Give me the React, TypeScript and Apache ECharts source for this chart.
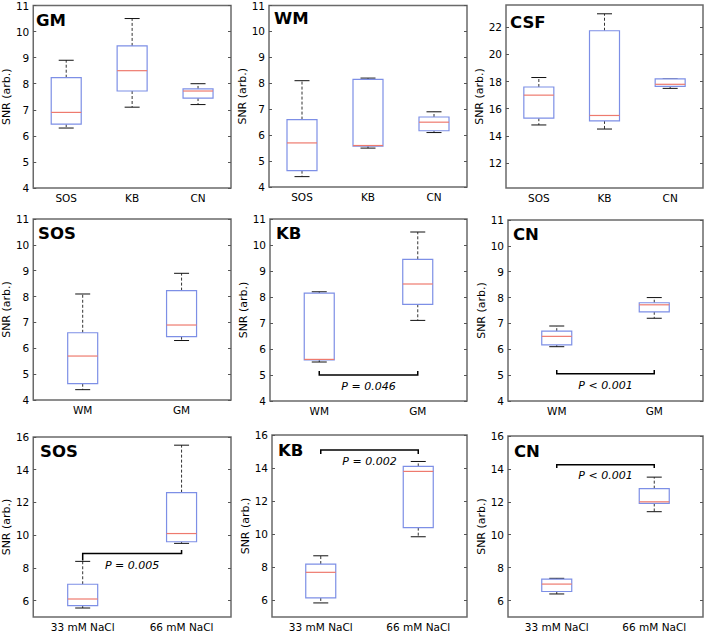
import React, { useEffect, useRef } from "react";
import * as echarts from "echarts";

// Box statistics: [min, Q1, median, Q3, max]
const GM_SOS = [6.3, 6.45, 6.9, 8.23, 8.9];
const GM_KB = [7.1, 7.72, 8.5, 9.45, 10.5];
const GM_CN = [7.2, 7.45, 7.72, 7.8, 8.0];
const WM_SOS = [4.4, 4.63, 5.7, 6.6, 8.1];
const WM_KB = [5.5, 5.58, 5.6, 8.15, 8.2];
const WM_CN = [6.1, 6.17, 6.5, 6.7, 6.9];
const CSF_SOS = [14.8, 15.3, 17.0, 17.6, 18.3];
const CSF_KB = [14.5, 15.1, 15.5, 21.75, 23.0];
const CSF_CN = [17.5, 17.65, 17.8, 18.2, 18.2];
const SOS_33 = [5.55, 5.7, 6.1, 7.0, 8.4];
const SOS_66 = [9.5, 9.6, 10.1, 12.6, 15.5];
const KB_33 = [5.85, 6.15, 7.7, 8.2, 8.7];
const KB_66 = [9.85, 10.4, 13.8, 14.1, 14.4];
const CN_33 = [6.4, 6.55, 7.0, 7.3, 7.35];
const CN_66 = [11.4, 11.9, 12.0, 12.8, 13.5];

// Categories
const METHODS = ["SOS", "KB", "CN"];
const TISSUES = ["WM", "GM"];
const NACL = ["33 mM NaCl", "66 mM NaCl"];

// Y ranges and tick labels
const RANGE_TISSUE = [4, 11];
const RANGE_CSF = [10.15, 23.65];
const RANGE_NACL = [5, 16];
const TICKS_TISSUE = [4, 5, 6, 7, 8, 9, 10, 11];
const TICKS_CSF = [12, 14, 16, 18, 20, 22];
const TICKS_NACL = [6, 8, 10, 12, 14, 16];

// Significance brackets: [barY, leftLegY, rightLegY, labelY]
const KB_TISSUE_BRACKET = [5.0, 5.15, 5.15, 4.55];
const CN_TISSUE_BRACKET = [5.05, 5.2, 5.2, 4.6];
const SOS_NACL_BRACKET = [8.88, 8.45, 9.1, 8.13];
const KB_NACL_BRACKET = [15.1, 14.85, 14.85, 14.38];
const CN_NACL_BRACKET = [14.25, 14.05, 14.05, 13.6];
const P_LABELS = ["P = 0.046", "P < 0.001", "P = 0.005", "P = 0.002", "P < 0.001"];

const PANELS = [
  { title: "GM", cats: METHODS, boxes: [GM_SOS, GM_KB, GM_CN], range: RANGE_TISSUE, ticks: TICKS_TISSUE },
  { title: "WM", cats: METHODS, boxes: [WM_SOS, WM_KB, WM_CN], range: RANGE_TISSUE, ticks: TICKS_TISSUE },
  { title: "CSF", cats: METHODS, boxes: [CSF_SOS, CSF_KB, CSF_CN], range: RANGE_CSF, ticks: TICKS_CSF },
  { title: "SOS", cats: TISSUES, boxes: [WM_SOS, GM_SOS], range: RANGE_TISSUE, ticks: TICKS_TISSUE },
  { title: "KB", cats: TISSUES, boxes: [WM_KB, GM_KB], range: RANGE_TISSUE, ticks: TICKS_TISSUE, bracket: KB_TISSUE_BRACKET, p: P_LABELS[0] },
  { title: "CN", cats: TISSUES, boxes: [WM_CN, GM_CN], range: RANGE_TISSUE, ticks: TICKS_TISSUE, bracket: CN_TISSUE_BRACKET, p: P_LABELS[1] },
  { title: "SOS", cats: NACL, boxes: [SOS_33, SOS_66], range: RANGE_NACL, ticks: TICKS_NACL, bracket: SOS_NACL_BRACKET, p: P_LABELS[2] },
  { title: "KB", cats: NACL, boxes: [KB_33, KB_66], range: RANGE_NACL, ticks: TICKS_NACL, bracket: KB_NACL_BRACKET, p: P_LABELS[3] },
  { title: "CN", cats: NACL, boxes: [CN_33, CN_66], range: RANGE_NACL, ticks: TICKS_NACL, bracket: CN_NACL_BRACKET, p: P_LABELS[4] },
];

// Layout (pixels)
const LAYOUT = [
  { left: 31, top: 5, width: 200, height: 183, nameGap: 18.5, tx: 5, ty: 7.3 },
  { left: 269, top: 5, width: 198, height: 182, nameGap: 11.5, tx: 5, ty: 4.7 },
  { left: 506, top: 5, width: 197, height: 183, nameGap: 17.5, tx: 4, ty: 9 },
  { left: 33, top: 219, width: 198, height: 181, nameGap: 20.5, tx: 5, ty: 6 },
  { left: 270, top: 219, width: 197, height: 182, nameGap: 12.5, tx: 6, ty: 6 },
  { left: 508, top: 220, width: 195, height: 181, nameGap: 14.5, tx: 5, ty: 6 },
  { left: 33, top: 437, width: 198, height: 180, nameGap: 20.5, tx: 7, ty: 6 },
  { left: 272, top: 435, width: 195, height: 182, nameGap: 18.5, tx: 6, ty: 7 },
  { left: 508, top: 436, width: 195, height: 181, nameGap: 18.5, tx: 6, ty: 7 },
];

const FONT = '"DejaVu Sans", "Noto Sans", sans-serif';
const BOX_COLOR = "#7d8fe6";
const MEDIAN_COLOR = "#ee7a6e";
const WHISKER_COLOR = "#333333";
const CAP_COLOR = "#111111";
const FRAME_COLOR = "#6a6a6a";
const BOX_HALF = 15;
const CAP_HALF = 7.5;

function boxRenderItem(params: any, api: any) {
  const i = api.value(0);
  const pMin = api.coord([i, api.value(1)]);
  const pQ1 = api.coord([i, api.value(2)]);
  const pMed = api.coord([i, api.value(3)]);
  const pQ3 = api.coord([i, api.value(4)]);
  const pMax = api.coord([i, api.value(5)]);
  const cx = pMed[0];
  const dash = { stroke: WHISKER_COLOR, lineWidth: 1, lineDash: [3, 2] };
  return {
    type: "group",
    children: [
      { type: "line", shape: { x1: cx, y1: pQ1[1], x2: cx, y2: pMin[1] }, style: dash },
      { type: "line", shape: { x1: cx, y1: pQ3[1], x2: cx, y2: pMax[1] }, style: dash },
      { type: "line", shape: { x1: cx - CAP_HALF, y1: pMin[1], x2: cx + CAP_HALF, y2: pMin[1] }, style: { stroke: CAP_COLOR, lineWidth: 1 } },
      { type: "line", shape: { x1: cx - CAP_HALF, y1: pMax[1], x2: cx + CAP_HALF, y2: pMax[1] }, style: { stroke: CAP_COLOR, lineWidth: 1 } },
      {
        type: "rect",
        shape: { x: cx - BOX_HALF, y: pQ3[1], width: BOX_HALF * 2, height: pQ1[1] - pQ3[1] },
        style: { stroke: BOX_COLOR, fill: "#ffffff", lineWidth: 1.2 },
      },
      { type: "line", shape: { x1: cx - BOX_HALF, y1: pMed[1], x2: cx + BOX_HALF, y2: pMed[1] }, style: { stroke: MEDIAN_COLOR, lineWidth: 1.2 } },
    ],
  };
}

function makeBracketRenderItem(label: string) {
  return (params: any, api: any) => {
    const pL = api.coord([api.value(0), api.value(2)]);
    const pR = api.coord([api.value(1), api.value(2)]);
    const lLeg = api.coord([api.value(0), api.value(3)]);
    const rLeg = api.coord([api.value(1), api.value(4)]);
    const pT = api.coord([api.value(0), api.value(5)]);
    const st = { stroke: "#000000", lineWidth: 1.5 };
    return {
      type: "group",
      children: [
        { type: "polyline", shape: { points: [[pL[0], lLeg[1]], [pL[0], pL[1]], [pR[0], pR[1]], [pR[0], rLeg[1]]] }, style: { ...st, fill: null } },
        {
          type: "text",
          x: (pL[0] + pR[0]) / 2,
          y: pT[1],
          style: {
            text: label,
            fontFamily: FONT,
            fontSize: 11,
            fontStyle: "italic",
            fill: "#000000",
            align: "center",
            verticalAlign: "middle",
          },
        },
      ],
    };
  };
}

export default function App() {
  const ref = useRef<HTMLDivElement>(null);
  useEffect(() => {
    if (!ref.current) return;
    const chart = echarts.init(ref.current, undefined, { renderer: "svg" });
    const grid: any[] = [];
    const xAxis: any[] = [];
    const yAxis: any[] = [];
    const series: any[] = [];
    const graphic: any[] = [];
    PANELS.forEach((p, k) => {
      const L = LAYOUT[k];
      grid.push({
        left: L.left,
        top: L.top,
        width: L.width,
        height: L.height,
        show: true,
        backgroundColor: "#ffffff",
        borderColor: FRAME_COLOR,
        borderWidth: 1.5,
      });
      xAxis.push({
        type: "category",
        gridIndex: k,
        data: p.cats,
        axisLine: { show: false },
        axisTick: { show: false },
        splitLine: { show: false },
        axisLabel: { color: "#000", fontSize: 10.5, fontFamily: FONT, margin: 4, interval: 0 },
      });
      const leftIdx = yAxis.length;
      yAxis.push({
        type: "value",
        gridIndex: k,
        min: p.range[0],
        max: p.range[1],
        axisLine: { show: false },
        splitLine: { show: false },
        axisTick: { show: true, inside: true, length: 3, customValues: p.ticks, lineStyle: { color: "#555" } },
        axisLabel: { color: "#000", fontSize: 10.5, fontFamily: FONT, margin: 4, customValues: p.ticks },
        name: "SNR (arb.)",
        nameLocation: "middle",
        nameGap: L.nameGap,
        nameTextStyle: { color: "#000", fontSize: 11, fontFamily: FONT },
      });
      yAxis.push({
        type: "value",
        gridIndex: k,
        position: "right",
        min: p.range[0],
        max: p.range[1],
        axisLine: { show: false },
        splitLine: { show: false },
        axisTick: { show: true, inside: true, length: 3, customValues: p.ticks, lineStyle: { color: "#555" } },
        axisLabel: { show: false },
      });
      series.push({
        type: "custom",
        xAxisIndex: k,
        yAxisIndex: leftIdx,
        renderItem: boxRenderItem,
        encode: { x: 0, y: [1, 2, 3, 4, 5] },
        data: p.boxes.map((b, i) => [i, ...b]),
        silent: true,
      });
      if (p.bracket) {
        series.push({
          type: "custom",
          xAxisIndex: k,
          yAxisIndex: leftIdx,
          renderItem: makeBracketRenderItem(p.p as string),
          encode: { x: [0, 1], y: [2, 3, 4, 5] },
          data: [[0, 1, ...p.bracket]],
          silent: true,
        });
      }
      graphic.push({
        type: "text",
        x: L.left + L.tx,
        y: L.top + L.ty,
        style: {
          text: p.title,
          fontFamily: FONT,
          fontWeight: "bold",
          fontSize: 16.5,
          fill: "#000",
          align: "left",
          verticalAlign: "top",
        },
        z: 100,
      });
    });
    chart.setOption({
      animation: false,
      backgroundColor: "#ffffff",
      grid,
      xAxis,
      yAxis,
      series,
      graphic,
    });
    return () => chart.dispose();
  }, []);
  return <div ref={ref} style={{ position: "absolute", left: 0, top: 0, width: 709, height: 632 }} />;
}
